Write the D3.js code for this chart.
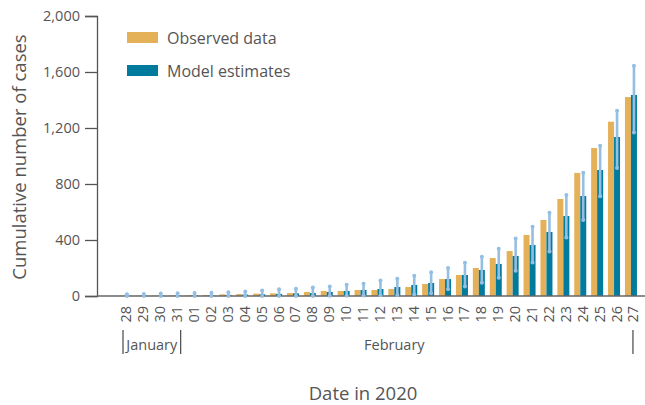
<!DOCTYPE html>
<html>
<head>
<meta charset="utf-8">
<script src="https://cdn.jsdelivr.net/npm/d3@7"></script>
<style>
  body { margin: 0; background: #fff; }
  text { font-family: "Open Sans", "Noto Sans", sans-serif; fill: #555; }
</style>
</head>
<body>
<svg id="chart" width="645" height="405"></svg>
<script>
const days = ["28","29","30","31","01","02","03","04","05","06","07","08","09","10","11","12","13","14","15","16","17","18","19","20","21","22","23","24","25","26","27"];
const observed = [1,2,3,3,5,7,12,14,17,19,21,29,36,36,43,43,50,64,86,121,150,200,271,321,436,543,693,879,1057,1245,1421];
const modelEst = [1,2,3,4,5,6,8,10,12,15,19,21,29,36,43,50,64,79,93,121,150,186,229,286,364,457,571,714,900,1136,1436];
const modelLow = [0,0,0,0,0,0,0,0,0,0,0,0,1,2,3,5,7,12,19,48,67,95,131,181,240,317,417,543,712,914,1167];
const modelHigh = [12,14,17,19,21,24,26,33,40,48,52,60,67,81,88,110,124,145,169,200,238,281,338,410,495,595,721,881,1074,1324,1645];
const yTicks = [0,400,800,1200,1600,2000];

const orange = "#e5b158";
const blue = "#007b9e";
const errColor = "#94bfe2";

const svg = d3.select("#chart");

const x = d3.scaleBand().domain(days).range([115.5, 639.4]);
const y = d3.scaleLinear().domain([0, 2000]).range([296, 16]);
const cx = d => x(d) + x.bandwidth() / 2;
const barW = 6;

// y axis
const yAxis = svg.append("g")
  .attr("transform", "translate(97,0)")
  .call(d3.axisLeft(y).tickValues(yTicks).tickSize(12).tickPadding(5).tickFormat(d3.format(",")));
yAxis.select(".domain").attr("stroke", "#555").attr("stroke-width", 1.3);
yAxis.selectAll(".tick line").attr("stroke", "#555").attr("stroke-width", 1.3);
yAxis.selectAll(".tick text")
  .style("font-size", "14.5px")
  .attr("fill", "#555");

// bars
svg.append("g").selectAll("rect")
  .data(days)
  .join("rect")
    .attr("x", d => cx(d) - barW)
    .attr("y", (d, i) => y(observed[i]))
    .attr("width", barW)
    .attr("height", (d, i) => y(0) - y(observed[i]))
    .attr("fill", orange);

svg.append("g").selectAll("rect")
  .data(days)
  .join("rect")
    .attr("x", d => cx(d))
    .attr("y", (d, i) => y(modelEst[i]))
    .attr("width", barW)
    .attr("height", (d, i) => y(0) - y(modelEst[i]))
    .attr("fill", blue);

// x axis baseline
svg.append("line")
  .attr("x1", 97).attr("x2", 645)
  .attr("y1", y(0)).attr("y2", y(0))
  .attr("stroke", "#666").attr("stroke-width", 1.5);

// error bars
const err = svg.append("g");
err.selectAll("line")
  .data(days)
  .join("line")
    .attr("x1", d => cx(d) + barW / 2)
    .attr("x2", d => cx(d) + barW / 2)
    .attr("y1", (d, i) => y(modelLow[i]))
    .attr("y2", (d, i) => y(modelHigh[i]))
    .attr("stroke", errColor)
    .attr("stroke-width", 2.6)
    .attr("stroke-linecap", "round");
err.selectAll("circle.top")
  .data(days)
  .join("circle")
    .attr("class", "top")
    .attr("cx", d => cx(d) + barW / 2)
    .attr("cy", (d, i) => y(modelHigh[i]))
    .attr("r", 2)
    .attr("fill", errColor);
err.selectAll("circle.bot")
  .data(days)
  .join("circle")
    .attr("class", "bot")
    .attr("cx", d => cx(d) + barW / 2)
    .attr("cy", (d, i) => y(modelLow[i]))
    .attr("r", 2)
    .attr("fill", errColor);

// x tick labels
svg.append("g").selectAll("text")
  .data(days)
  .join("text")
    .attr("transform", d => `translate(${cx(d) + 7.5},306) rotate(-90)`)
    .attr("text-anchor", "end")
    .style("font-size", "14.5px")
    .text(d => d);

// month markers
const markers = [x("28") + 7.5, cx("31") + 6, cx("27") + 2];
svg.append("g").selectAll("line")
  .data(markers)
  .join("line")
    .attr("x1", d => d).attr("x2", d => d)
    .attr("y1", 330).attr("y2", 354)
    .attr("stroke", "#555").attr("stroke-width", 1.3);

svg.append("text")
  .attr("x", (markers[0] + markers[1]) / 2)
  .attr("y", 350)
  .attr("text-anchor", "middle")
  .style("font-size", "14.5px")
  .text("January");

svg.append("text")
  .attr("x", cx("13"))
  .attr("y", 350)
  .attr("text-anchor", "middle")
  .style("font-size", "14.5px")
  .text("February");

// axis titles
svg.append("text")
  .attr("x", 363)
  .attr("y", 400)
  .attr("text-anchor", "middle")
  .style("font-size", "18.5px")
  .text("Date in 2020");

svg.append("text")
  .attr("transform", "translate(26,157) rotate(-90)")
  .attr("text-anchor", "middle")
  .style("font-size", "18.5px")
  .text("Cumulative number of cases");

// legend
const legend = [
  { label: "Observed data", color: orange },
  { label: "Model estimates", color: blue }
];
const lg = svg.append("g").selectAll("g")
  .data(legend)
  .join("g")
    .attr("transform", (d, i) => `translate(127,${32 + i * 33})`);
lg.append("rect")
  .attr("width", 31).attr("height", 11)
  .attr("fill", d => d.color);
lg.append("text")
  .attr("x", 40).attr("y", 11.5)
  .style("font-size", "16px")
  .text(d => d.label);
</script>
</body>
</html>
